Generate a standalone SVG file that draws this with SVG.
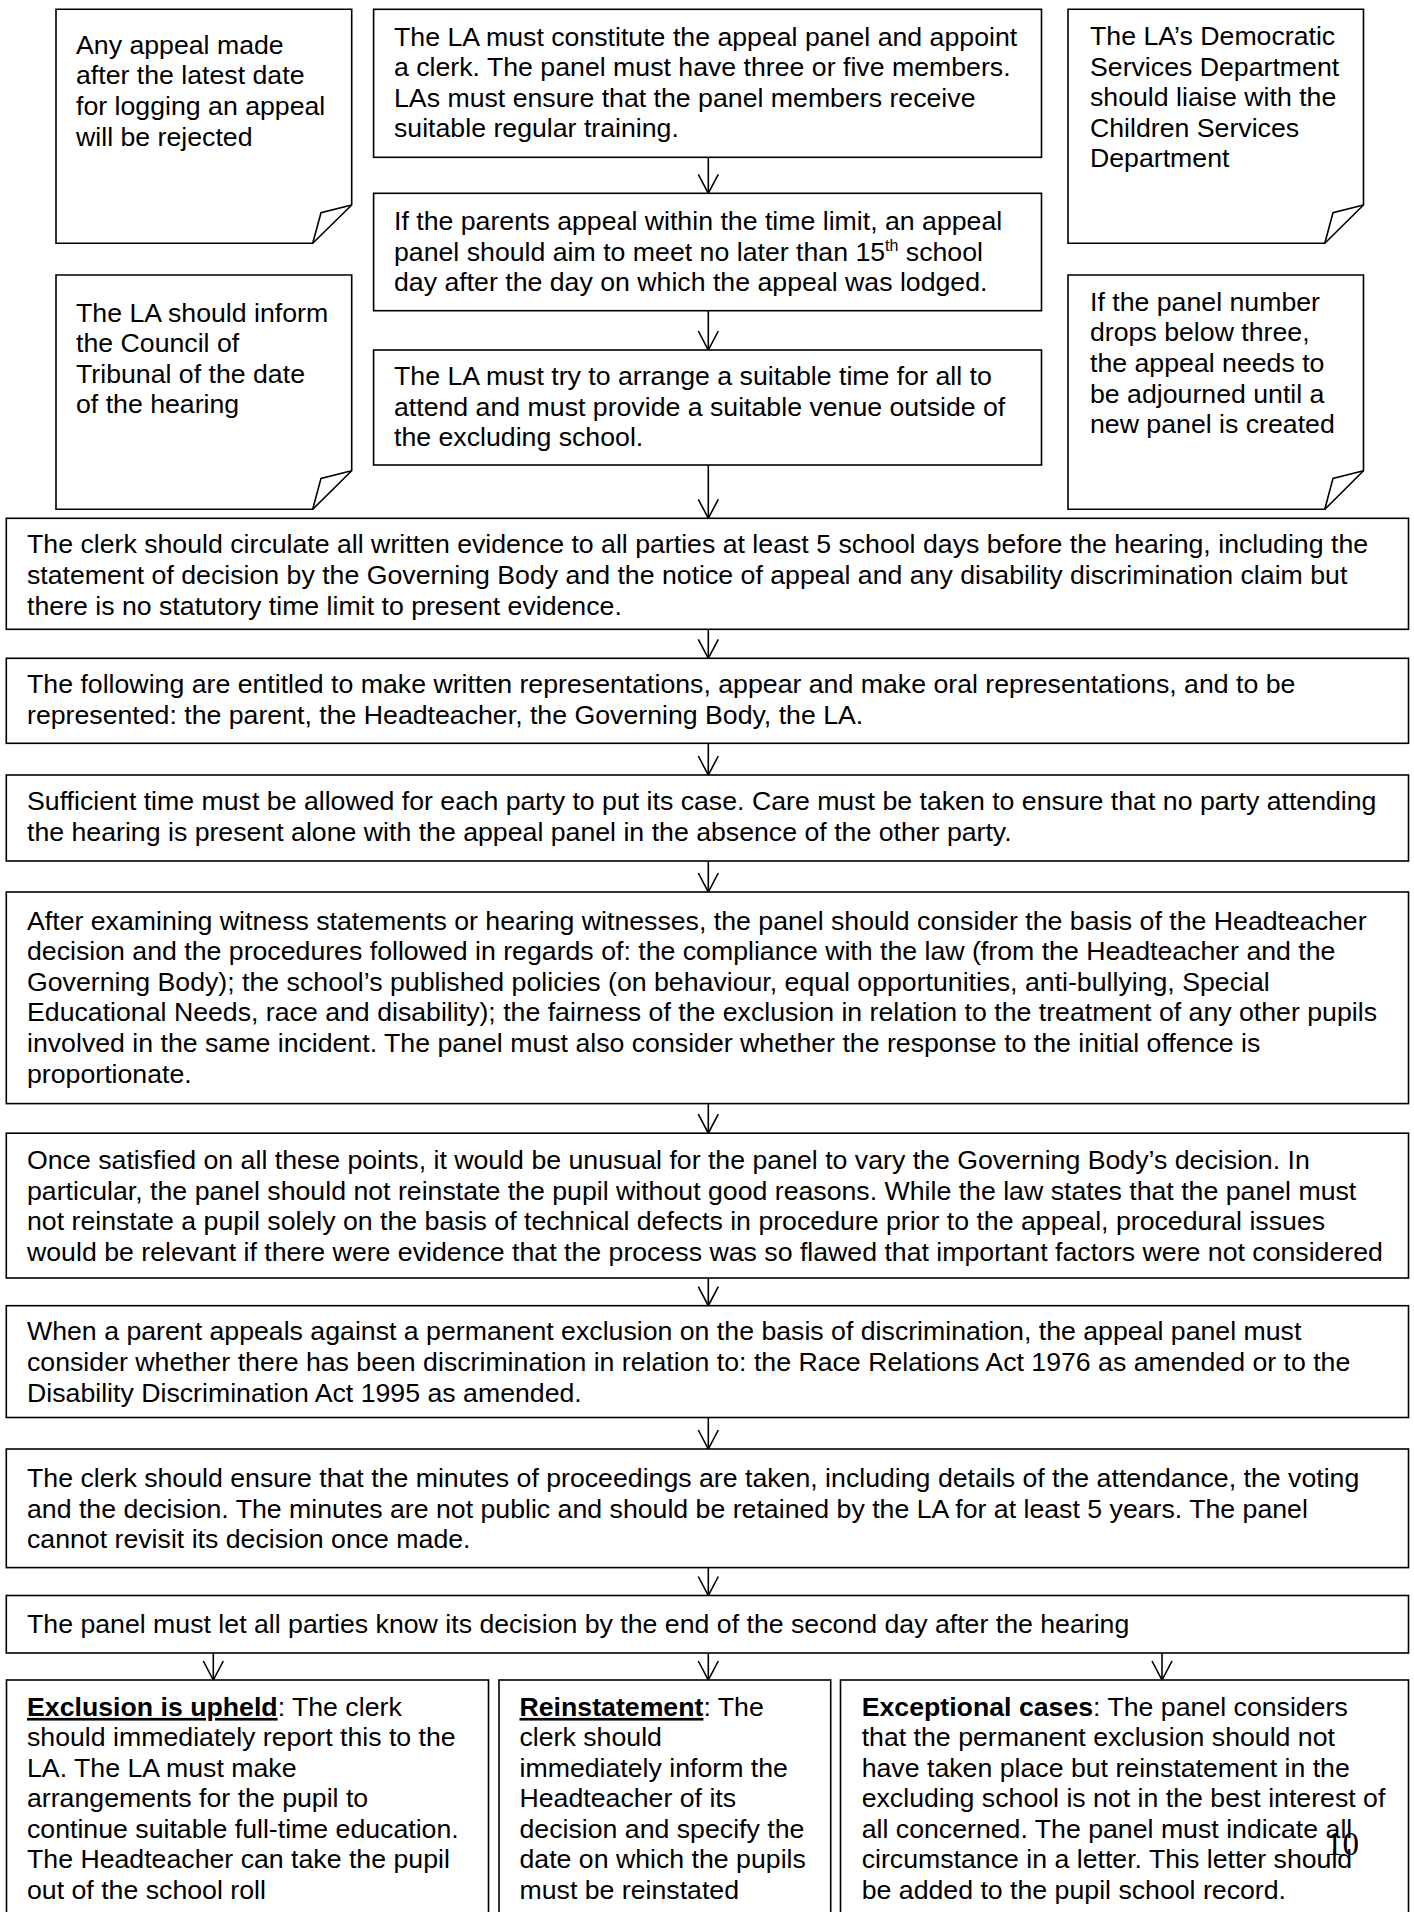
<svg xmlns="http://www.w3.org/2000/svg" width="1414" height="1912" viewBox="0 0 1414 1912">
<style>
.box{fill:#fff;stroke:#000;stroke-width:1.6}
.curl{fill:none;stroke:#000;stroke-width:1.6;stroke-linejoin:miter}
.t{font-family:"Liberation Sans",Arial,sans-serif;font-size:26.7px;fill:#000}
.b{font-weight:bold}
.u{text-decoration:underline}
.sup{font-size:16px}
.con{fill:none;stroke:#000;stroke-width:1.6}
.pg{font-family:"Liberation Serif","Times New Roman",serif;font-size:33px;fill:#000}
</style>
<defs>
<marker id="ah" markerUnits="userSpaceOnUse" markerWidth="30" markerHeight="30" refX="0" refY="0" orient="auto" overflow="visible">
<path d="M-19,-10 L0,0 L-19,10" fill="none" stroke="#000" stroke-width="1.6"/>
</marker>
</defs>
<rect width="1414" height="1912" fill="#fff"/>

<g id="connectors">
<path class="con" d="M708.3,157.3 V193.3" marker-end="url(#ah)"/>
<path class="con" d="M708.3,310.7 V350" marker-end="url(#ah)"/>
<path class="con" d="M708.3,465 V518.3" marker-end="url(#ah)"/>
<path class="con" d="M708.3,629.3 V658.3" marker-end="url(#ah)"/>
<path class="con" d="M708.3,743.3 V775" marker-end="url(#ah)"/>
<path class="con" d="M708.3,861 V892" marker-end="url(#ah)"/>
<path class="con" d="M708.3,1103.6 V1133.2" marker-end="url(#ah)"/>
<path class="con" d="M708.3,1278 V1305.7" marker-end="url(#ah)"/>
<path class="con" d="M708.3,1417.5 V1449" marker-end="url(#ah)"/>
<path class="con" d="M708.3,1567.6 V1595.5" marker-end="url(#ah)"/>
<path class="con" d="M213.3,1653 V1680" marker-end="url(#ah)"/>
<path class="con" d="M708.3,1653 V1680" marker-end="url(#ah)"/>
<path class="con" d="M1162,1653 V1680" marker-end="url(#ah)"/>
</g>

<g id="note-late-appeal">
<path class="box" d="M56,9.3 H351.7 V205 L312.7,243.3 H56 Z"/>
<path class="curl" d="M312.7,243.3 L321,212.7 L351.7,205"/>
<text class="t"><tspan x="76" y="53.5">Any appeal made</tspan><tspan x="76" y="84.3">after the latest date</tspan><tspan x="76" y="115.1">for logging an appeal</tspan><tspan x="76" y="145.9">will be rejected</tspan></text>
</g>

<g id="note-council">
<path class="box" d="M56,275 H351.7 V470.7 L312.7,509.3 H56 Z"/>
<path class="curl" d="M312.7,509.3 L321,478.4 L351.7,470.7"/>
<text class="t"><tspan x="76" y="321.5">The LA should inform</tspan><tspan x="76" y="352">the Council of</tspan><tspan x="76" y="382.5">Tribunal of the date</tspan><tspan x="76" y="413">of the hearing</tspan></text>
</g>

<g id="note-democratic">
<path class="box" d="M1068,9.3 H1363.5 V205 L1324.8,243.3 H1068 Z"/>
<path class="curl" d="M1324.8,243.3 L1333,212.7 L1363.5,205"/>
<text class="t"><tspan x="1090" y="45">The LA’s Democratic</tspan><tspan x="1090" y="75.6">Services Department</tspan><tspan x="1090" y="106.2">should liaise with the</tspan><tspan x="1090" y="136.8">Children Services</tspan><tspan x="1090" y="167.4">Department</tspan></text>
</g>

<g id="note-panel-number">
<path class="box" d="M1068,275 H1363.5 V470.7 L1324.8,509.3 H1068 Z"/>
<path class="curl" d="M1324.8,509.3 L1333,478.4 L1363.5,470.7"/>
<text class="t"><tspan x="1090" y="310.7">If the panel number</tspan><tspan x="1090" y="341.3">drops below three,</tspan><tspan x="1090" y="371.9">the appeal needs to</tspan><tspan x="1090" y="402.5">be adjourned until a</tspan><tspan x="1090" y="433.1">new panel is created</tspan></text>
</g>

<g id="box-constitute">
<rect class="box" x="373.6" y="9.3" width="667.9" height="148"/>
<text class="t"><tspan x="394" y="45.5">The LA must constitute the appeal panel and appoint</tspan><tspan x="394" y="76">a clerk. The panel must have three or five members.</tspan><tspan x="394" y="106.6">LAs must ensure that the panel members receive</tspan><tspan x="394" y="137">suitable regular training.</tspan></text>
</g>

<g id="box-time-limit">
<rect class="box" x="373.6" y="193.3" width="667.9" height="117.4"/>
<text class="t"><tspan x="394" y="230">If the parents appeal within the time limit, an appeal</tspan><tspan x="394" y="260.6">panel should aim to meet no later than 15</tspan><tspan class="sup" y="250.5">th</tspan><tspan y="260.6"> school</tspan><tspan x="394" y="291.2">day after the day on which the appeal was lodged.</tspan></text>
</g>

<g id="box-venue">
<rect class="box" x="373.6" y="350" width="667.9" height="115"/>
<text class="t"><tspan x="394" y="385">The LA must try to arrange a suitable time for all to</tspan><tspan x="394" y="415.6">attend and must provide a suitable venue outside of</tspan><tspan x="394" y="446.2">the excluding school.</tspan></text>
</g>

<g id="box-evidence">
<rect class="box" x="6.3" y="518.3" width="1402.2" height="111"/>
<text class="t"><tspan x="27" y="553.3">The clerk should circulate all written evidence to all parties at least 5 school days before the hearing, including the</tspan><tspan x="27" y="583.9">statement of decision by the Governing Body and the notice of appeal and any disability discrimination claim but</tspan><tspan x="27" y="614.5">there is no statutory time limit to present evidence.</tspan></text>
</g>

<g id="box-entitled">
<rect class="box" x="6.3" y="658.3" width="1402.2" height="85"/>
<text class="t"><tspan x="27" y="693.3">The following are entitled to make written representations, appear and make oral representations, and to be</tspan><tspan x="27" y="723.9">represented: the parent, the Headteacher, the Governing Body, the LA.</tspan></text>
</g>

<g id="box-sufficient-time">
<rect class="box" x="6.3" y="775" width="1402.2" height="86"/>
<text class="t"><tspan x="27" y="810">Sufficient time must be allowed for each party to put its case. Care must be taken to ensure that no party attending</tspan><tspan x="27" y="840.6">the hearing is present alone with the appeal panel in the absence of the other party.</tspan></text>
</g>

<g id="box-examining">
<rect class="box" x="6.3" y="892" width="1402.2" height="211.6"/>
<text class="t"><tspan x="27" y="929.6">After examining witness statements or hearing witnesses, the panel should consider the basis of the Headteacher</tspan><tspan x="27" y="960.2">decision and the procedures followed in regards of: the compliance with the law (from the Headteacher and the</tspan><tspan x="27" y="990.8">Governing Body); the school’s published policies (on behaviour, equal opportunities, anti-bullying, Special</tspan><tspan x="27" y="1021.4">Educational Needs, race and disability); the fairness of the exclusion in relation to the treatment of any other pupils</tspan><tspan x="27" y="1052">involved in the same incident. The panel must also consider whether the response to the initial offence is</tspan><tspan x="27" y="1082.6">proportionate.</tspan></text>
</g>

<g id="box-satisfied">
<rect class="box" x="6.3" y="1133.2" width="1402.2" height="144.8"/>
<text class="t"><tspan x="27" y="1168.9">Once satisfied on all these points, it would be unusual for the panel to vary the Governing Body’s decision. In</tspan><tspan x="27" y="1199.5">particular, the panel should not reinstate the pupil without good reasons. While the law states that the panel must</tspan><tspan x="27" y="1230.1">not reinstate a pupil solely on the basis of technical defects in procedure prior to the appeal, procedural issues</tspan><tspan x="27" y="1260.7">would be relevant if there were evidence that the process was so flawed that important factors were not considered</tspan></text>
</g>

<g id="box-discrimination">
<rect class="box" x="6.3" y="1305.7" width="1402.2" height="111.8"/>
<text class="t"><tspan x="27" y="1340.4">When a parent appeals against a permanent exclusion on the basis of discrimination, the appeal panel must</tspan><tspan x="27" y="1371">consider whether there has been discrimination in relation to: the Race Relations Act 1976 as amended or to the</tspan><tspan x="27" y="1401.6">Disability Discrimination Act 1995 as amended.</tspan></text>
</g>

<g id="box-minutes">
<rect class="box" x="6.3" y="1449" width="1402.2" height="118.6"/>
<text class="t"><tspan x="27" y="1486.9">The clerk should ensure that the minutes of proceedings are taken, including details of the attendance, the voting</tspan><tspan x="27" y="1517.5">and the decision. The minutes are not public and should be retained by the LA for at least 5 years. The panel</tspan><tspan x="27" y="1548.1">cannot revisit its decision once made.</tspan></text>
</g>

<g id="box-decision">
<rect class="box" x="6.3" y="1595.5" width="1402.2" height="57.5"/>
<text class="t"><tspan x="27" y="1632.8">The panel must let all parties know its decision by the end of the second day after the hearing</tspan></text>
</g>

<g id="box-upheld">
<rect class="box" x="6.5" y="1680" width="482" height="260"/>
<text class="t"><tspan x="27" y="1715.9" class="b u">Exclusion is upheld</tspan><tspan>: The clerk</tspan><tspan x="27" y="1746.4">should immediately report this to the</tspan><tspan x="27" y="1776.9">LA. The LA must make</tspan><tspan x="27" y="1807.4">arrangements for the pupil to</tspan><tspan x="27" y="1837.9">continue suitable full-time education.</tspan><tspan x="27" y="1868.4">The Headteacher can take the pupil</tspan><tspan x="27" y="1898.9">out of the school roll</tspan></text>
</g>

<g id="box-reinstatement">
<rect class="box" x="499" y="1680" width="331.7" height="260"/>
<text class="t"><tspan x="519.5" y="1715.9" class="b u">Reinstatement</tspan><tspan>: The</tspan><tspan x="519.5" y="1746.4">clerk should</tspan><tspan x="519.5" y="1776.9">immediately inform the</tspan><tspan x="519.5" y="1807.4">Headteacher of its</tspan><tspan x="519.5" y="1837.9">decision and specify the</tspan><tspan x="519.5" y="1868.4">date on which the pupils</tspan><tspan x="519.5" y="1898.9">must be reinstated</tspan></text>
</g>

<g id="box-exceptional">
<rect class="box" x="840.5" y="1680" width="568" height="260"/>
<text class="t"><tspan x="861.7" y="1715.9" class="b">Exceptional cases</tspan><tspan>: The panel considers</tspan><tspan x="861.7" y="1746.4">that the permanent exclusion should not</tspan><tspan x="861.7" y="1776.9">have taken place but reinstatement in the</tspan><tspan x="861.7" y="1807.4">excluding school is not in the best interest of</tspan><tspan x="861.7" y="1837.9">all concerned. The panel must indicate all</tspan><tspan x="861.7" y="1868.4">circumstance in a letter. This letter should</tspan><tspan x="861.7" y="1898.9">be added to the pupil school record.</tspan></text>
</g>

<text class="pg" x="1326" y="1855">10</text>
</svg>
